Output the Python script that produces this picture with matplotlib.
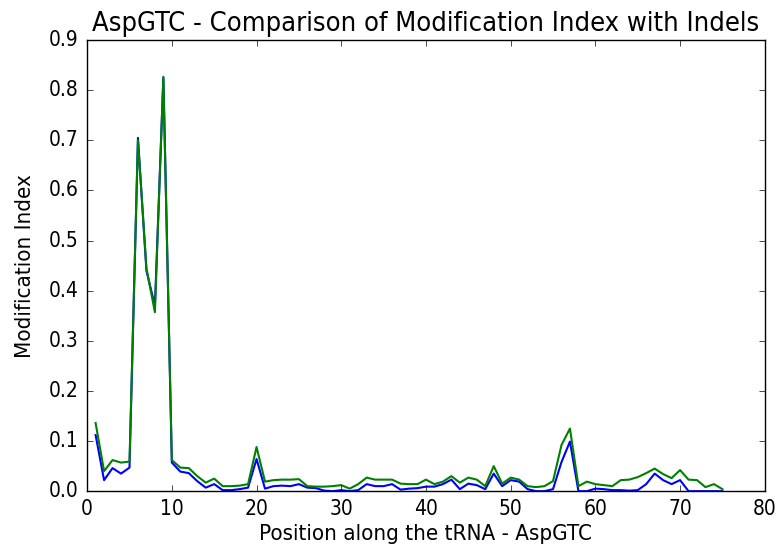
import matplotlib
matplotlib.use("Agg")
import matplotlib.pyplot as plt

plt.style.use("classic")
plt.rcParams["font.family"] = ["DejaVu Sans"]
plt.rcParams["font.stretch"] = "condensed"

# Modification index per position, without and with indels
position = list(range(1, 76))
mod_index = [0.112, 0.022, 0.046, 0.035, 0.047, 0.705, 0.44, 0.37, 0.825, 0.057,
             0.039, 0.036, 0.020, 0.007, 0.014, 0.002, 0.002, 0.004, 0.007, 0.064,
             0.005, 0.010, 0.011, 0.010, 0.014, 0.007, 0.006, 0.001, 0.0, 0.002,
             0.0, 0.002, 0.014, 0.010, 0.010, 0.014, 0.003, 0.005, 0.006, 0.009,
             0.009, 0.014, 0.023, 0.004, 0.015, 0.012, 0.004, 0.035, 0.010, 0.022,
             0.019, 0.004, 0.0, 0.0, 0.004, 0.058, 0.099, 0.0, 0.0, 0.005,
             0.004, 0.002, 0.002, 0.001, 0.002, 0.014, 0.035, 0.022, 0.014, 0.022,
             0.0, 0.0, 0.0, 0.0, 0.0]
mod_index_indels = [0.136, 0.040, 0.062, 0.057, 0.059, 0.70, 0.445, 0.357, 0.827, 0.062,
                    0.047, 0.046, 0.030, 0.017, 0.025, 0.010, 0.010, 0.011, 0.014, 0.088,
                    0.019, 0.022, 0.023, 0.023, 0.024, 0.010, 0.009, 0.009, 0.010, 0.012,
                    0.005, 0.014, 0.027, 0.023, 0.023, 0.023, 0.015, 0.014, 0.014, 0.023,
                    0.014, 0.019, 0.030, 0.017, 0.027, 0.023, 0.010, 0.050, 0.015, 0.027,
                    0.023, 0.010, 0.008, 0.010, 0.020, 0.092, 0.125, 0.010, 0.019, 0.014,
                    0.012, 0.010, 0.022, 0.023, 0.028, 0.036, 0.045, 0.034, 0.026, 0.042,
                    0.023, 0.022, 0.008, 0.014, 0.004]

fig = plt.figure(figsize=(7.78, 5.5), dpi=100)
fig.subplots_adjust(left=0.112, right=0.983, top=0.927, bottom=0.107)
ax = fig.add_subplot(111)
ax.plot(position, mod_index, "b-", lw=1.5)
ax.plot(position, mod_index_indels, "g-", lw=1.5)

ax.set_xlim(0, 80)
ax.set_ylim(0, 0.9)
ax.set_xlabel("Position along the tRNA - AspGTC", fontsize=16, labelpad=3)
ax.set_ylabel("Modification Index", fontsize=16, labelpad=10)
ax.set_title("AspGTC - Comparison of Modification Index with Indels", fontsize=19.5, y=1.005)
ax.tick_params(labelsize=15, pad=6)

fig.savefig("out.png", dpi=100, facecolor="white")
